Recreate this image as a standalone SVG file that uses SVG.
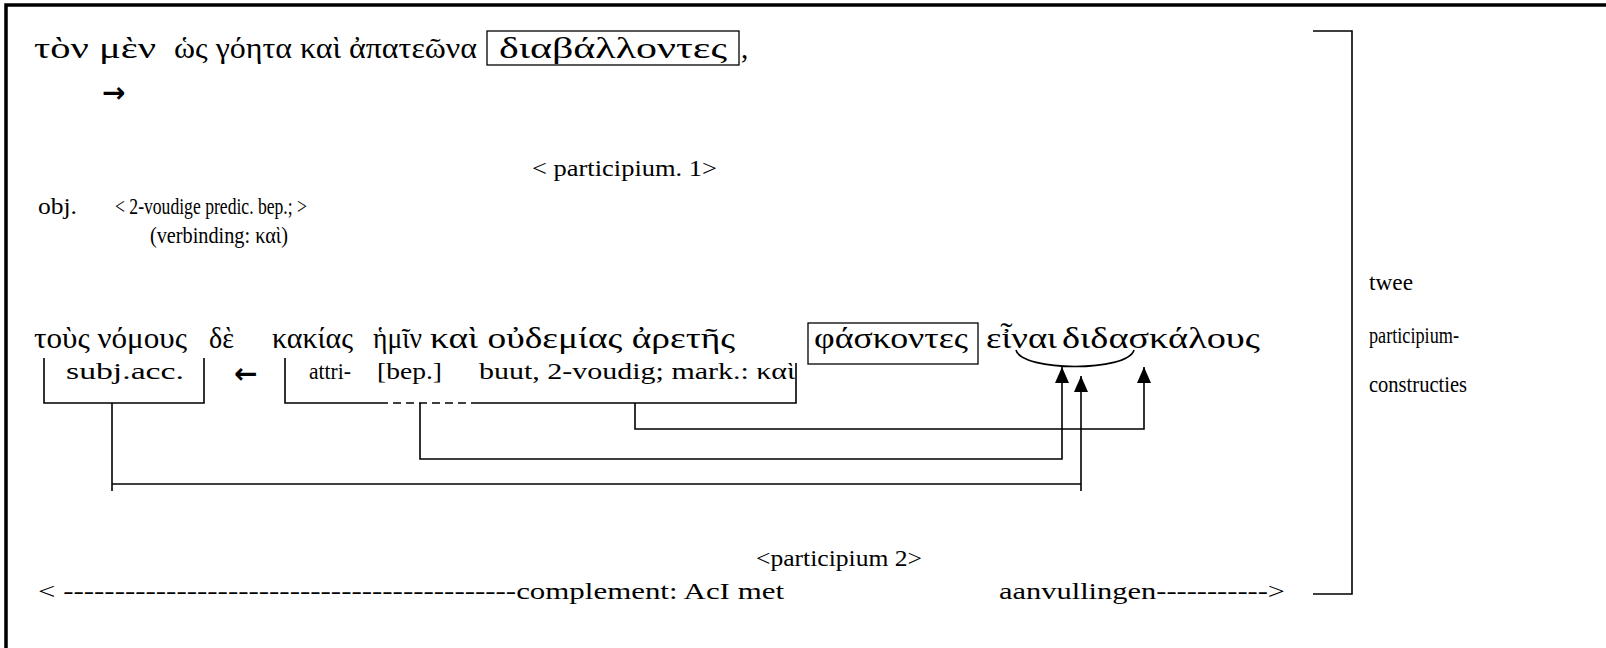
<svg xmlns="http://www.w3.org/2000/svg" width="1606" height="648" viewBox="0 0 1606 648">
<style>
.g{font-family:"Liberation Serif","DejaVu Serif",serif;font-size:29px;fill:#000}
.l{font-family:"Liberation Serif","DejaVu Serif",serif;font-size:23px;fill:#000}
.s{font-family:"DejaVu Sans",sans-serif;font-size:28px;font-weight:bold;fill:#000}
.ln{stroke:#000;stroke-width:1.6;fill:none}
.bx{stroke:#000;stroke-width:1.3;fill:none}
</style>
<defs>
<marker id="ah" markerWidth="16" markerHeight="14" refX="16" refY="7" orient="auto" markerUnits="userSpaceOnUse" viewBox="0 0 16 14">
<path d="M0,0 L16,7 L0,14 Z" fill="#000"/>
</marker>
</defs>
<rect width="1606" height="648" fill="#fff"/>
<path d="M6,648 V5 H1606" stroke="#000" stroke-width="3.5" fill="none"/>

<g id="row1">
<text class="g" x="34" y="58" textLength="122" lengthAdjust="spacingAndGlyphs">τὸν μὲν</text>
<text class="g" x="174" y="58" textLength="303" lengthAdjust="spacingAndGlyphs">ὡς γόητα καὶ ἀπατεῶνα</text>
<rect class="bx" x="487" y="31" width="252" height="34"/>
<text class="g" x="499" y="58" textLength="228" lengthAdjust="spacingAndGlyphs">διαβάλλοντες</text>
<text class="g" x="741" y="58">,</text>
<text class="s" x="102" y="102">→</text>
</g>

<g id="labels1">
<text class="l" x="532" y="176" textLength="185" lengthAdjust="spacingAndGlyphs">&lt; participium. 1&gt;</text>
<text class="l" x="38" y="214" textLength="39" lengthAdjust="spacingAndGlyphs">obj.</text>
<text class="l" x="115" y="214" textLength="192" lengthAdjust="spacingAndGlyphs">&lt; 2-voudige predic. bep.; &gt;</text>
<text class="l" x="150" y="243" textLength="138" lengthAdjust="spacingAndGlyphs">(verbinding: καὶ)</text>
</g>

<g id="row2">
<text class="g" x="34" y="348" textLength="153" lengthAdjust="spacingAndGlyphs">τοὺς νόμους</text>
<text class="g" x="209" y="348" textLength="25" lengthAdjust="spacingAndGlyphs">δὲ</text>
<text class="g" x="272" y="348" textLength="81" lengthAdjust="spacingAndGlyphs">κακίας</text>
<text class="g" x="373" y="348" textLength="49" lengthAdjust="spacingAndGlyphs">ἡμῖν</text>
<text class="g" x="430" y="348" textLength="305" lengthAdjust="spacingAndGlyphs">καὶ οὐδεμίας ἀρετῆς</text>
<rect class="bx" x="808" y="323" width="170" height="41"/>
<text class="g" x="814" y="348" textLength="154" lengthAdjust="spacingAndGlyphs">φάσκοντες</text>
<text class="g" x="986" y="348" textLength="71" lengthAdjust="spacingAndGlyphs">εἶναι</text>
<text class="g" x="1062" y="348" textLength="198" lengthAdjust="spacingAndGlyphs">διδασκάλους</text>
<path class="ln" d="M1016,350 C1022,372 1128,372 1134,350"/>
</g>

<g id="labels2">
<path class="ln" d="M44,358 V403 H204 V358"/>
<text class="l" x="66" y="379" textLength="118" lengthAdjust="spacingAndGlyphs">subj.acc.</text>
<text class="s" x="234" y="383">←</text>
<path class="ln" d="M285,358 V403 H380"/>
<path class="ln" d="M380,403 H476" stroke-dasharray="8,5"/>
<path class="ln" d="M476,403 H796 V363"/>
<text class="l" x="309" y="379" textLength="42" lengthAdjust="spacingAndGlyphs">attri-</text>
<text class="l" x="377" y="379" textLength="65" lengthAdjust="spacingAndGlyphs">[bep.]</text>
<text class="l" x="479" y="379" textLength="316" lengthAdjust="spacingAndGlyphs">buut, 2-voudig; mark.: καὶ</text>
</g>

<g id="connectors">
<path class="ln" d="M112,403 V491"/>
<path class="ln" d="M112,484 H1081"/>
<path class="ln" d="M1081,491 V376" marker-end="url(#ah)"/>
<path class="ln" d="M420,403 V459 H1062 V367" marker-end="url(#ah)"/>
<path class="ln" d="M635,403 V429 H1144 V367" marker-end="url(#ah)"/>
</g>

<g id="bracket">
<path class="ln" d="M1313,31 H1352 V594 H1313"/>
<text class="l" x="1369" y="290" textLength="44" lengthAdjust="spacingAndGlyphs">twee</text>
<text class="l" x="1369" y="343" textLength="90" lengthAdjust="spacingAndGlyphs">participium-</text>
<text class="l" x="1369" y="392" textLength="98" lengthAdjust="spacingAndGlyphs">constructies</text>
</g>

<g id="bottom">
<text class="l" x="756" y="566" textLength="166" lengthAdjust="spacingAndGlyphs">&lt;participium 2&gt;</text>
<text class="l" x="38" y="599" textLength="746" lengthAdjust="spacingAndGlyphs">&lt; --------------------------------------------complement: AcI met</text>
<text class="l" x="999" y="599" textLength="286" lengthAdjust="spacingAndGlyphs">aanvullingen-----------&gt;</text>
</g>
</svg>
